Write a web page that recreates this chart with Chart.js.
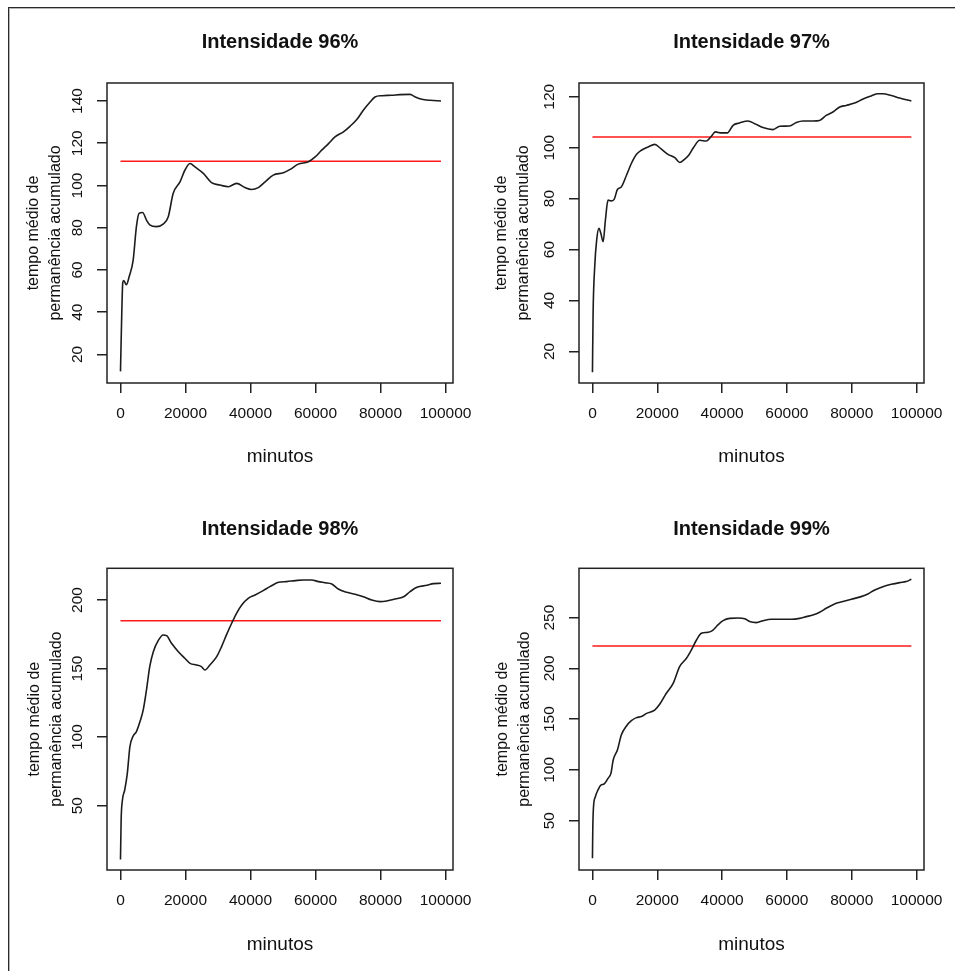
<!DOCTYPE html>
<html>
<head>
<meta charset="utf-8">
<script src="https://cdn.jsdelivr.net/npm/chart.js@4"></script>
<style>
  html, body { margin: 0; padding: 0; background: #fff; }
  #page { position: relative; width: 955px; height: 971px; overflow: hidden; }
  #frame {
    position: absolute; left: 8px; top: 7px; width: 1000px; height: 1000px;
    border-top: 1px solid #2a2a2a; border-left: 1px solid #2a2a2a;
    box-shadow: inset 1px 1px 0 #b5b5b5;
  }
  canvas { position: absolute; }
</style>
</head>
<body>
<div id="page">
  <div id="frame"></div>
  <canvas id="c96"></canvas>
  <canvas id="c97"></canvas>
  <canvas id="c98"></canvas>
  <canvas id="c99"></canvas>
</div>
<script>
// x ticks shared by all four panels
const xTicks = [0, 20000, 40000, 60000, 80000, 100000];

// Intensidade 96%
const min96 = [0, 400, 700, 1000, 1800, 2700, 3900, 4900, 5700, 6800, 8000, 9000, 11100, 13100, 14700, 16200, 18300, 19800, 21400, 22900, 25500, 28000, 30600, 33200, 35700, 38300, 40300, 42400, 44500, 47000, 50100, 52200, 54700, 57800, 59900, 61900, 64000, 66000, 68600, 70600, 72700, 74700, 76800, 78300, 80400, 83500, 86000, 89100, 90700, 92700, 95300, 98600];
const tempo96 = [12, 40, 54, 55, 53, 57, 64.7, 80.5, 86.8, 87.2, 83.6, 81.3, 80.5, 81.7, 85.2, 96.2, 101.7, 107.2, 110.4, 108.8, 105.7, 101.3, 100.2, 99.4, 101, 99, 98.1, 99, 101.7, 104.9, 106, 107.6, 110.1, 111.2, 113.5, 116.7, 119.8, 123, 125.4, 128, 131.2, 135.6, 139.5, 141.9, 142.5, 142.7, 143, 143.1, 141.9, 140.8, 140.3, 140];
const media96 = 111.5;
const yTicks96 = [20, 40, 60, 80, 100, 120, 140];

// Intensidade 97%
const min97 = [0, 200, 700, 1300, 2000, 2600, 3300, 4000, 4800, 5700, 6700, 7700, 8900, 10500, 12000, 13600, 15100, 17200, 19200, 21100, 23300, 25400, 26900, 28300, 29700, 31300, 33100, 35100, 36700, 37900, 39800, 41600, 43400, 45400, 48000, 50100, 52600, 55700, 57800, 60800, 62900, 65000, 68000, 70100, 72100, 74200, 76300, 78300, 80900, 83500, 86000, 88100, 89600, 92200, 94800, 98400];
const tempo97 = [11.8, 35, 53.3, 63.7, 68.3, 66.3, 63.1, 71.6, 79.4, 79.1, 79.7, 83.6, 84.6, 89.2, 93.8, 97.4, 99, 100.3, 101.3, 99.6, 97.4, 96.1, 94.2, 95.3, 97, 100.3, 102.9, 102.6, 104.5, 106.2, 105.8, 105.8, 108.8, 109.7, 110.5, 109.4, 107.9, 107.1, 108.4, 108.5, 109.9, 110.5, 110.5, 110.7, 112.7, 114, 116, 116.6, 117.5, 119.1, 120.3, 121.2, 121.2, 120.5, 119.5, 118.3];
const media97 = 104.2;
const yTicks97 = [20, 40, 60, 80, 100, 120];

// Intensidade 98%
const min98 = [0, 200, 600, 1300, 2100, 2900, 3900, 4900, 6000, 7000, 8000, 9000, 10100, 11600, 13100, 14200, 15700, 17800, 19800, 21400, 23400, 24900, 26000, 27500, 29600, 31100, 32600, 34200, 35700, 37300, 39300, 41400, 43900, 46000, 48600, 51100, 53700, 56300, 58800, 60900, 62900, 65000, 67000, 69600, 72200, 74700, 77300, 79900, 81900, 84500, 87100, 89100, 91200, 94300, 96300, 98600];
const tempo98 = [10.8, 39.5, 54.1, 61.4, 73.6, 93, 100.8, 104, 111.3, 119.8, 134.4, 151.4, 162.3, 170.3, 174.5, 174, 168.4, 162.3, 157.5, 153.8, 152.6, 151.4, 148.9, 152.6, 158.7, 166, 174.5, 183, 190.3, 196.4, 201.2, 203.6, 206.8, 209.7, 212.9, 213.4, 214.1, 214.6, 214.6, 213.4, 212.6, 211.7, 208, 205.6, 204.1, 202.4, 200, 198.8, 199.3, 200.7, 202.4, 206.1, 209.2, 210.7, 211.9, 212.2];
const media98 = 184.9;
const yTicks98 = [50, 100, 150, 200];

// Intensidade 99%
const min99 = [0, 100, 300, 900, 1700, 2600, 3600, 4800, 5700, 6400, 7700, 8900, 10500, 12000, 13600, 15100, 16700, 19200, 20800, 22800, 24900, 26900, 29000, 30500, 32100, 33600, 35700, 37200, 38700, 40300, 42300, 44900, 47000, 48500, 50600, 52600, 55200, 58300, 61400, 63900, 66000, 68000, 70100, 72100, 74700, 77300, 79900, 82900, 85000, 87100, 89600, 92200, 94800, 96800, 98400];
const tempo99 = [12.9, 40.8, 62.2, 73.6, 80.2, 85.1, 86.1, 91.7, 96.6, 109.8, 119.6, 134.4, 143.3, 148.5, 151.5, 152.5, 155.7, 159, 164.9, 175.5, 185.3, 201.7, 210, 218.1, 228, 234.6, 235.6, 237.8, 242.8, 247, 249.3, 249.7, 249, 246.1, 245.1, 247, 248.4, 248.4, 248.4, 249.3, 251, 252.6, 255.3, 259.2, 263.5, 265.8, 268.1, 270.7, 273.3, 277.3, 280.5, 282.8, 284.5, 285.5, 287.8];
const media99 = 222.1;
const yTicks99 = [50, 100, 150, 200, 250];

const yTitle = ["tempo médio de", "permanência acumulado"];
const FONT = '"Liberation Sans", Arial, Helvetica, sans-serif';

// box around the plot region + vertical y tick labels (R style)
const rFrame = {
  id: "rFrame",
  afterDraw(chart) {
    const { ctx, chartArea: a } = chart;
    const y = chart.scales.y;
    ctx.save();
    ctx.strokeStyle = "#222";
    ctx.lineWidth = 1.5;
    ctx.strokeRect(a.left, a.top, a.right - a.left, a.bottom - a.top);
    ctx.font = "15.5px " + FONT;
    ctx.fillStyle = "#111";
    ctx.textAlign = "center";
    ctx.textBaseline = "middle";
    y.ticks.forEach((t) => {
      const py = y.getPixelForValue(t.value);
      ctx.save();
      ctx.translate(a.left - 29.5, py);
      ctx.rotate(-Math.PI / 2);
      ctx.fillText(String(t.value), 0, 0);
      ctx.restore();
    });
    ctx.restore();
  },
};

function makePanel(id, box, title, xs, ys, media, yTicks, yMin, yMax) {
  const canvas = document.getElementById(id);
  canvas.width = box.w;
  canvas.height = box.h;
  canvas.style.left = box.x + "px";
  canvas.style.top = box.y + "px";

  const points = xs.map((x, i) => ({ x: x, y: ys[i] }));
  const mediaLine = [
    { x: xs[0], y: media },
    { x: xs[xs.length - 1], y: media },
  ];

  return new Chart(canvas.getContext("2d"), {
    type: "line",
    data: {
      datasets: [
        {
          data: points,
          borderColor: "#1c1c1c",
          borderWidth: 1.6,
          pointRadius: 0,
          cubicInterpolationMode: "monotone",
        },
        {
          data: mediaLine,
          borderColor: "#ff1a1a",
          borderWidth: 1.5,
          pointRadius: 0,
        },
      ],
    },
    options: {
      responsive: false,
      animation: false,
      events: [],
      layout: { padding: { left: 0, top: 0, bottom: 0, right: box.w - box.R } },
      plugins: {
        legend: { display: false },
        tooltip: { enabled: false },
        title: {
          display: true,
          text: title,
          fullSize: false,
          color: "#111",
          font: { family: FONT, size: 20, weight: "bold", lineHeight: 1.2 },
          padding: { top: box.titleY - 12, bottom: box.T - box.titleY - 12 },
        },
      },
      scales: {
        x: {
          type: "linear",
          min: -4150,
          max: 102300,
          afterBuildTicks: (s) => {
            s.ticks = xTicks.map((v) => ({ value: v }));
          },
          afterFit: (s) => {
            s.height = box.h - box.B;
            // labels may hang past the plot box, like in R
            s.paddingLeft = 0;
            s.paddingRight = 0;
          },
          grid: { drawOnChartArea: false, tickLength: 10, color: "#222", lineWidth: 1.5 },
          border: { display: false },
          ticks: {
            color: "#111",
            font: { family: FONT, size: 15.5 },
            padding: 11.5,
            maxRotation: 0,
            autoSkip: false,
            callback: (v) => String(v),
          },
          title: {
            display: true,
            text: "minutos",
            color: "#111",
            font: { family: FONT, size: 19 },
            padding: { top: 0, bottom: box.xTitlePad },
          },
        },
        y: {
          type: "linear",
          min: yMin,
          max: yMax,
          afterBuildTicks: (s) => {
            s.ticks = yTicks.map((v) => ({ value: v }));
          },
          afterFit: (s) => {
            s.width = box.L;
            s.paddingTop = 0;
            s.paddingBottom = 0;
          },
          grid: { drawOnChartArea: false, tickLength: 10, color: "#222", lineWidth: 1.5 },
          border: { display: false },
          ticks: { display: false },
          title: {
            display: true,
            text: yTitle,
            color: "#111",
            font: { family: FONT, size: 16, lineHeight: 1.36 },
            padding: { top: box.yTitleX - 10.9, bottom: 0 },
          },
        },
      },
    },
    plugins: [rFrame],
  });
}

makePanel("c96", { x: 0, y: 0, w: 477, h: 485, L: 107, T: 83, R: 453, B: 383, titleY: 42.5, yTitleX: 33.5, xTitlePad: 16.4 },
  "Intensidade 96%", min96, tempo96, media96, yTicks96, 6.5, 148.5);
makePanel("c97", { x: 477, y: 0, w: 478, h: 485, L: 102, T: 83, R: 447, B: 383, titleY: 42.5, yTitleX: 25, xTitlePad: 16.4 },
  "Intensidade 97%", min97, tempo97, media97, yTicks97, 7.6, 125.4);
makePanel("c98", { x: 0, y: 485, w: 477, h: 486, L: 107, T: 83.3, R: 453, B: 385, titleY: 44.3, yTitleX: 34.5, xTitlePad: 14.7 },
  "Intensidade 98%", min98, tempo98, media98, yTicks98, 3.06, 223.1);
makePanel("c99", { x: 477, y: 485, w: 478, h: 486, L: 102, T: 83.3, R: 447, B: 385, titleY: 44.3, yTitleX: 25.5, xTitlePad: 14.7 },
  "Intensidade 99%", min99, tempo99, media99, yTicks99, 1.4, 298.6);
</script>
</body>
</html>
